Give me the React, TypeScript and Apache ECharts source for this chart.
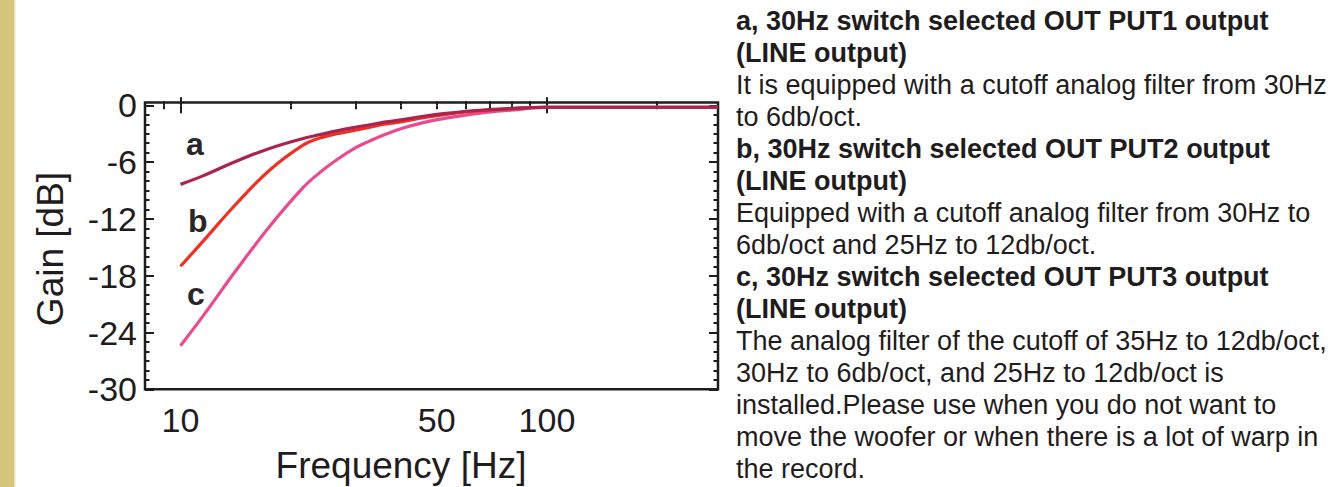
import React, { useEffect, useRef } from "react";
import * as echarts from "echarts";

// Frequency points (Hz) and gain (dB)
const freqHz = [10, 11.5, 14.2, 17.5, 21.6, 24, 26.7, 30, 32.9, 36, 40.5, 46, 53, 65.6, 81, 98, 150, 200, 293];
const gainA = [-8.35, -7.45, -5.9, -4.55, -3.5, -3.1, -2.7, -2.32, -2.05, -1.78, -1.5, -1.15, -0.85, -0.52, -0.32, -0.2, -0.2, -0.2, -0.2];
const gainB = [-17.0, -14.4, -10.4, -6.85, -4.2, -3.45, -3.0, -2.62, -2.3, -2.0, -1.7, -1.3, -0.95, -0.57, -0.34, -0.2, -0.2, -0.2, -0.2];
const gainC = [-25.4, -22.3, -17.4, -12.8, -8.7, -7.1, -5.75, -4.5, -3.75, -3.1, -2.4, -1.82, -1.35, -0.82, -0.48, -0.22, -0.2, -0.2, -0.2];

const seriesNames = ["a", "b", "c"];
const seriesColors = ["#a9254f", "#ee3124", "#ea4a90"];

const xLabelHz = [10, 50, 100];
const xMajorTickHz = [10, 100];
const xMinorTickHz = [9, 20, 30, 40, 50, 60, 70, 80, 90, 200];
const yMajorTicks = [-30, -24, -18, -12, -6, 0];
const yMinorTicks = [
  -29, -28, -27, -26, -25, -23, -22, -21, -20, -19, -17, -16, -15, -14, -13,
  -11, -10, -9, -8, -7, -5, -4, -3, -2, -1,
];

const X_MIN_HZ = 8;
const X_MAX_HZ = 293;
const Y_MIN = -30;
const Y_MAX = 0.3;

const descriptionLines: { text: string; bold: boolean }[] = [
  { text: "a, 30Hz switch selected OUT PUT1 output", bold: true },
  { text: "(LINE output)", bold: true },
  { text: "It is equipped with a cutoff analog filter from 30Hz", bold: false },
  { text: "to 6db/oct.", bold: false },
  { text: "b, 30Hz switch selected OUT PUT2 output", bold: true },
  { text: "(LINE output)", bold: true },
  { text: "Equipped with a cutoff analog filter from 30Hz to", bold: false },
  { text: "6db/oct and 25Hz to 12db/oct.", bold: false },
  { text: "c, 30Hz switch selected OUT PUT3 output", bold: true },
  { text: "(LINE output)", bold: true },
  { text: "The analog filter of the cutoff of 35Hz to 12db/oct,", bold: false },
  { text: "30Hz to 6db/oct, and 25Hz to 12db/oct is", bold: false },
  { text: "installed.Please use when you do not want to", bold: false },
  { text: "move the woofer or when there is a lot of warp in", bold: false },
  { text: "the record.", bold: false },
];

const FONT = "'Liberation Sans', Arial, Helvetica, sans-serif";
const INK = "#1f1c1d";

export default function App() {
  const ref = useRef<HTMLDivElement>(null);

  useEffect(() => {
    if (!ref.current) return;
    const chart = echarts.init(ref.current, null, { renderer: "svg" });

    const lg = (v: number) => Math.log10(v);
    const xBase = {
      type: "value" as const,
      min: lg(X_MIN_HZ),
      max: lg(X_MAX_HZ),
      axisLine: { show: false },
      splitLine: { show: false },
    };
    const yBase = {
      type: "value" as const,
      min: Y_MIN,
      max: Y_MAX,
      axisLine: { show: false },
      splitLine: { show: false },
    };
    const tick = (vals: number[], len: number) => ({
      show: true,
      inside: true,
      length: len,
      customValues: vals,
      lineStyle: { color: INK, width: 2 },
    });

    const gains = [gainA, gainB, gainC];
    const series = [2, 1, 0].map((k) => ({
      name: seriesNames[k],
      type: "line",
      xAxisIndex: 0,
      yAxisIndex: 0,
      showSymbol: false,
      smooth: 0.4,
      lineStyle: { color: seriesColors[k], width: 3.2 },
      itemStyle: { color: seriesColors[k] },
      data: freqHz.map((f, i) => [lg(f), gains[k][i]]),
      z: 3 + (2 - k),
    }));

    const curveLabels = [
      { t: "a", x: 186, y: 144 },
      { t: "b", x: 188, y: 220.5 },
      { t: "c", x: 187, y: 294 },
    ];

    const graphic: any[] = [
      { type: "rect", shape: { x: 0, y: 0, width: 14, height: 487 }, style: { fill: "#d4c47c" } },
      { type: "rect", shape: { x: 14, y: 0, width: 1.5, height: 487 }, style: { fill: "#ebe2b6" } },
      {
        type: "text",
        x: 50,
        y: 249,
        rotation: Math.PI / 2,
        style: {
          text: "Gain [dB]",
          font: `37px ${FONT}`,
          fill: INK,
          textAlign: "center",
          textVerticalAlign: "middle",
        },
      },
      {
        type: "text",
        x: 401,
        y: 465,
        style: {
          text: "Frequency [Hz]",
          font: `37px ${FONT}`,
          fill: INK,
          textAlign: "center",
          textVerticalAlign: "middle",
        },
      },
      ...curveLabels.map((c) => ({
        type: "text",
        x: c.x,
        y: c.y,
        style: {
          text: c.t,
          font: `bold 32px ${FONT}`,
          fill: "#2a2627",
          textAlign: "left",
          textVerticalAlign: "middle",
        },
      })),
      ...descriptionLines.map((ln, i) => ({
        type: "text",
        x: 736,
        y: 30.7 + 32 * i - 9.4,
        style: {
          text: ln.text,
          font: `${ln.bold ? "bold " : ""}27px ${FONT}`,
          fill: INK,
          textAlign: "left",
          textVerticalAlign: "middle",
        },
      })),
    ];

    chart.setOption({
      animation: false,
      backgroundColor: "#ffffff",
      grid: {
        left: 145,
        top: 102.5,
        width: 573,
        height: 286.8,
        show: true,
        borderColor: INK,
        borderWidth: 2.5,
        backgroundColor: "transparent",
      },
      xAxis: [
        {
          ...xBase,
          position: "bottom",
          axisTick: tick(xMajorTickHz.map(lg), 8),
          axisLabel: {
            customValues: xLabelHz.map(lg),
            formatter: (v: number) => String(Math.round(Math.pow(10, v))),
            fontSize: 34,
            fontFamily: FONT,
            color: INK,
            margin: 14,
          },
        },
        { ...xBase, position: "bottom", axisTick: tick(xMinorTickHz.map(lg), 4), axisLabel: { show: false } },
        { ...xBase, position: "top", axisTick: tick(xMajorTickHz.map(lg), 8), axisLabel: { show: false } },
        { ...xBase, position: "top", axisTick: tick(xMinorTickHz.map(lg), 4), axisLabel: { show: false } },
      ],
      yAxis: [
        {
          ...yBase,
          position: "left",
          axisTick: tick(yMajorTicks, 9),
          axisLabel: {
            customValues: yMajorTicks,
            fontSize: 34,
            fontFamily: FONT,
            color: INK,
            margin: 8,
          },
        },
        { ...yBase, position: "left", axisTick: tick(yMinorTicks, 4.5), axisLabel: { show: false } },
        { ...yBase, position: "right", axisTick: tick(yMajorTicks, 9), axisLabel: { show: false } },
        { ...yBase, position: "right", axisTick: tick(yMinorTicks, 4.5), axisLabel: { show: false } },
      ],
      series,
      graphic,
    });

    return () => chart.dispose();
  }, []);

  return (
    <div
      ref={ref}
      style={{ position: "fixed", left: 0, top: 0, width: 1342, height: 487, background: "#fff" }}
    />
  );
}
